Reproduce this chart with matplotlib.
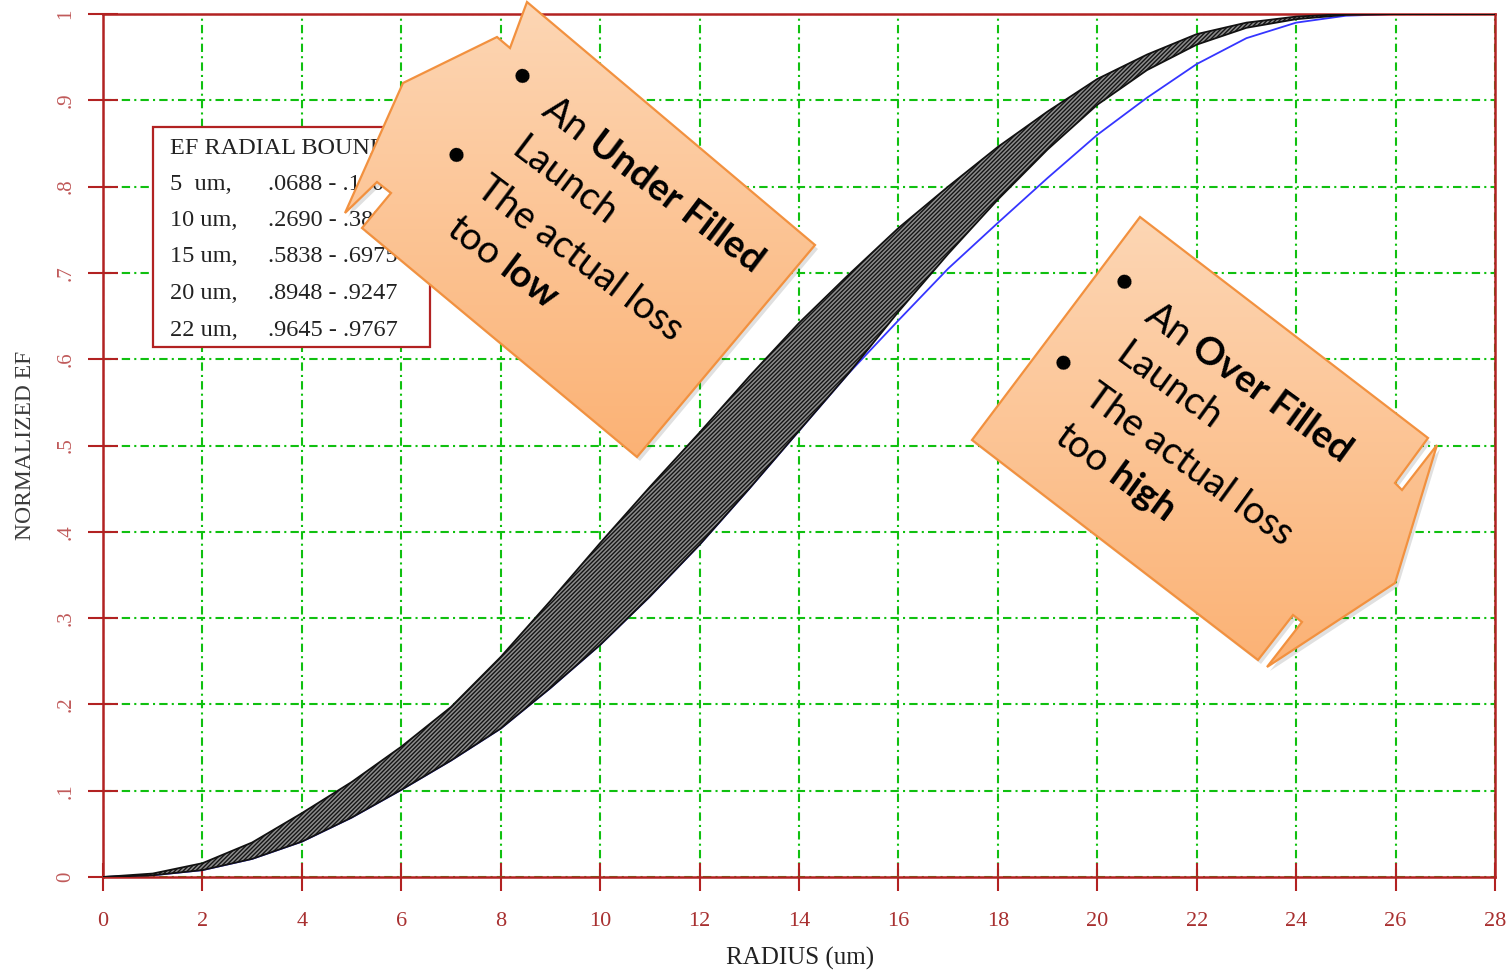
import numpy as np
import matplotlib
matplotlib.use("Agg")
import matplotlib.pyplot as plt
from matplotlib.patches import Polygon, Rectangle

# ---- data ----
radius = [0, 1, 2, 3, 4, 5, 6, 7, 8, 9, 10, 11, 12, 13, 14,
          15, 16, 17, 18, 19, 20, 21, 22, 23, 24, 25, 26, 27, 28]
ef_lower = [0, 0.002, 0.008, 0.021, 0.041, 0.0688, 0.101, 0.135, 0.172, 0.219,
            0.269, 0.325, 0.385, 0.450, 0.517, 0.5838, 0.655, 0.722, 0.785, 0.843,
            0.8948, 0.935, 0.9645, 0.984, 0.994, 0.999, 1.0, 1.0, 1.0]
ef_upper = [0, 0.004, 0.016, 0.040, 0.074, 0.110, 0.151, 0.197, 0.255, 0.320,
            0.387, 0.452, 0.515, 0.580, 0.642, 0.698, 0.752, 0.800, 0.846, 0.887,
            0.9247, 0.953, 0.9767, 0.990, 0.997, 1.0, 1.0, 1.0, 1.0]
ef_measured = [0, 0.002, 0.008, 0.021, 0.041, 0.0688, 0.101, 0.135, 0.172, 0.219,
               0.269, 0.325, 0.385, 0.450, 0.517, 0.5838, 0.645, 0.705, 0.758, 0.810,
               0.860, 0.903, 0.942, 0.972, 0.990, 0.998, 1.0, 1.0, 1.0]

x_ticks = list(range(0, 29, 2))
y_ticks = [0, .1, .2, .3, .4, .5, .6, .7, .8, .9, 1]
y_tick_labels = ['0', '.1', '.2', '.3', '.4', '.5', '.6', '.7', '.8', '.9', '1']

legend_title = "EF RADIAL BOUNDS"
legend_rows = [("5  um,", ".0688 - .1100"),
               ("10 um,", ".2690 - .3870"),
               ("15 um,", ".5838 - .6975"),
               ("20 um,", ".8948 - .9247"),
               ("22 um,", ".9645 - .9767")]

W, H = 1511, 974
red = '#b22222'
serif = ['Liberation Serif', 'DejaVu Serif']
callout_font = ['Lato', 'DejaVu Sans']

plt.rcParams['hatch.linewidth'] = 1.0

fig = plt.figure(figsize=(W / 100, H / 100), dpi=100)
ax = fig.add_axes([103 / W, 1 - 877 / H, 1392 / W, 863 / H])

# band of EF bounds + measured launch
ax.fill_between(radius, ef_lower, ef_upper, facecolor='#8c8c8c', edgecolor='#151515',
                hatch='////////', linewidth=0, zorder=3)
ax.plot(radius, ef_measured, color='#3535ff', lw=1.3, zorder=2)
ax.plot(radius, ef_lower, color='#111111', lw=1.3, zorder=4)
ax.plot(radius, ef_upper, color='#111111', lw=1.3, zorder=4)

ax.set_xlim(0, 28)
ax.set_ylim(0, 1)
ax.set_xticks(x_ticks)
ax.set_yticks(y_ticks)
ax.set_yticklabels(y_tick_labels, rotation=90, va='center')
ax.grid(True, color='#10c010', lw=1.5, linestyle=(0, (4, 2, 1, 2)), zorder=1)
for sp in ax.spines.values():
    sp.set_color(red)
    sp.set_linewidth(1.8)
ax.tick_params(axis='x', direction='inout', length=20, width=1.5, color=red,
               labelcolor='#a83030', labelsize=16, pad=15)
ax.tick_params(axis='y', direction='inout', length=22, width=1.5, color=red,
               labelcolor='#c05a5a', labelsize=15, pad=9)
for lab in ax.get_xticklabels() + ax.get_yticklabels():
    lab.set_family(serif)

# overlay in figure pixels (y down) for labels, legend box and callouts
ov = fig.add_axes([0, 0, 1, 1], zorder=10)
ov.set_xlim(0, W)
ov.set_ylim(H, 0)
ov.axis('off')
ov.patch.set_visible(False)

ov.text(26, 445, "NORMALIZED EF", rotation=90, ha='center', va='center',
        fontsize=17, family=serif, color='#3a3a3a')
ov.text(800, 958, "RADIUS (um)", ha='center', va='center',
        fontsize=18, family=serif, color='#222222')

ov.add_patch(Rectangle((153, 127), 277, 220, facecolor='white', edgecolor=red,
                       lw=1.6, zorder=1))
ov.text(170, 148, legend_title, fontsize=17.5, family=serif, va='center', zorder=2,
        color='#222222')
for i, (a, b) in enumerate(legend_rows):
    y = 184 + i * 36.5
    ov.text(170, y, a, fontsize=17.5, family=serif, va='center', zorder=2, color='#222222')
    ov.text(268, y, b, fontsize=17.5, family=serif, va='center', zorder=2, color='#222222')

# callout shapes
under_poly = [(403, 83), (345, 213), (377, 182), (391, 193), (362, 228), (637, 457),
              (815, 245), (540, 13), (527, 2), (510, 48), (497, 37)]
over_poly = [(1140, 217), (1428, 438), (1395, 483), (1402, 490), (1437, 445),
             (1395, 583), (1267, 667), (1302, 622), (1293, 615), (1258, 660), (972, 440)]

grad = np.linspace(0, 1, 256).reshape(-1, 1)
cmap = matplotlib.colors.LinearSegmentedColormap.from_list('peach', ['#fdd6b4', '#fbb275'])
for k, pts in enumerate([under_poly, over_poly]):
    pts = np.array(pts, float)
    shadow = Polygon(pts + [3, 4], closed=True, facecolor='#000000', alpha=0.12,
                     edgecolor='none', zorder=3)
    ov.add_patch(shadow)
    patch = Polygon(pts, closed=True, facecolor='none', edgecolor='#f2913f', lw=1.6,
                    zorder=5)
    ov.add_patch(patch)
    x0, y0 = pts.min(axis=0)
    x1, y1 = pts.max(axis=0)
    im = ov.imshow(grad, cmap=cmap, extent=(x0, x1, y1, y0), aspect='auto', zorder=4)
    im.set_clip_path(Polygon(pts, closed=True, transform=ov.transData))
ov.set_xlim(0, W)
ov.set_ylim(H, 0)

renderer = fig.canvas.get_renderer()


def width(s, size, weight):
    t = ov.text(0, 0, s, fontsize=size, family=callout_font, fontweight=weight)
    w = t.get_window_extent(renderer).width
    t.remove()
    return w


def put_line(start, parts, ang, size):
    a = np.deg2rad(ang)
    d = np.array([np.cos(a), np.sin(a)])
    p = np.array(start, float)
    sp = width("a a", size, 'normal') - width("aa", size, 'normal')
    for s, weight in parts:
        ov.text(p[0], p[1], s, fontsize=size, family=callout_font, fontweight=weight,
                rotation=-ang, rotation_mode='anchor', ha='left', va='baseline',
                color='black', zorder=6)
        p = p + d * (width(s, size, weight) + sp)


def callout_text(b1, b2, lines, ang, size, spacing):
    a = np.deg2rad(ang)
    d = np.array([np.cos(a), np.sin(a)])
    n = np.array([-np.sin(a), np.cos(a)])
    for b in (b1, b2):
        ov.text(b[0], b[1], "\u2022", fontsize=size, family=callout_font,
                rotation=-ang, ha='center', va='center', color='black', zorder=6)
    s1 = np.array(b1) + 37 * d + 17 * n
    s3 = np.array(b2) + 37 * d + 17 * n
    starts = [s1, s1 + spacing * n, s3, s3 + spacing * n]
    for st, parts in zip(starts, lines):
        put_line(st, parts, ang, size)


callout_text((521, 78), (455, 157),
             [[("An", 'normal'), ("Under Filled", 'bold')],
              [("Launch", 'normal')],
              [("The actual loss", 'normal')],
              [("too", 'normal'), ("low", 'bold')]], 37, 27.5, 50.5)
callout_text((1123, 284), (1062, 365),
             [[("An", 'normal'), ("Over Filled", 'bold')],
              [("Launch", 'normal')],
              [("The actual loss", 'normal')],
              [("too", 'normal'), ("high", 'bold')]], 36, 27.5, 50.5)

fig.savefig("out.png", dpi=100)
